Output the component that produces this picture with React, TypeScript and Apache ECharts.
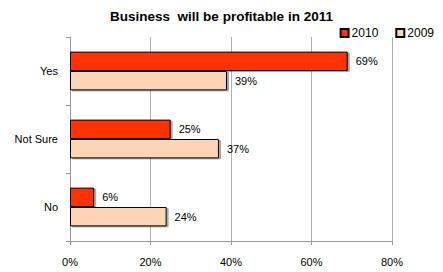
import React, { useEffect, useRef } from "react";
import * as echarts from "echarts";

const categories = ["Yes", "Not Sure", "No"];
const values2010 = [69, 25, 6];
const values2009 = [39, 37, 24];
const seriesNames = ["2010", "2009"];
const titleText = "Business  will be profitable in 2011";

export default function App() {
  const ref = useRef<HTMLDivElement>(null);
  useEffect(() => {
    if (!ref.current) return;
    const chart = echarts.init(ref.current, null, { renderer: "svg" });
    const font = "'Liberation Sans', Arial, sans-serif";
    const barStyle = (color: string) => ({
      color,
      borderColor: "#000",
      borderWidth: 1,
      shadowColor: "rgba(0,0,0,0.35)",
      shadowOffsetX: 2,
      shadowOffsetY: 1,
      shadowBlur: 1,
    });
    chart.setOption({
      animation: false,
      backgroundColor: "#fff",
      textStyle: { fontFamily: font },
      title: {
        text: titleText,
        left: "center",
        top: 4,
        textStyle: { fontSize: 13.5, fontWeight: "bold", color: "#000", fontFamily: font },
      },
      legend: {
        data: seriesNames,
        right: 4,
        top: 22,
        itemWidth: 8,
        itemHeight: 8,
        itemGap: 17,
        textStyle: { fontSize: 12, color: "#000", fontFamily: font, padding: [0, 0, 0, -2] },
        icon: "rect",
      },
      grid: { left: 70, right: 51, top: 37, bottom: 31, containLabel: false },
      xAxis: {
        type: "value",
        min: 0,
        max: 80,
        interval: 20,
        axisLine: { show: true, lineStyle: { color: "#999" } },
        axisTick: { show: true, length: 4, lineStyle: { color: "#999" } },
        splitLine: { show: true, lineStyle: { color: "#b0b0b0", width: 1 } },
        axisLabel: { formatter: "{value}%", fontSize: 11, color: "#000", margin: 15, fontFamily: font },
      },
      yAxis: {
        type: "category",
        data: categories,
        inverse: true,
        axisLine: { show: true, lineStyle: { color: "#999" } },
        axisTick: { show: true, length: 4, lineStyle: { color: "#999" } },
        axisLabel: { fontSize: 11, color: "#000", margin: 12, fontFamily: font },
      },
      series: [
        {
          name: seriesNames[0],
          type: "bar",
          data: values2010,
          barCategoryGap: "43%",
          barGap: "0%",
          itemStyle: barStyle("#ff3300"),
          label: { show: true, position: "right", distance: 8, formatter: "{c}%", fontSize: 11, color: "#000", fontFamily: font },
        },
        {
          name: seriesNames[1],
          type: "bar",
          data: values2009,
          barCategoryGap: "43%",
          barGap: "0%",
          itemStyle: barStyle("#fcd5b5"),
          label: { show: true, position: "right", distance: 8, formatter: "{c}%", fontSize: 11, color: "#000", fontFamily: font },
        },
      ],
    });
    return () => chart.dispose();
  }, []);
  return <div ref={ref} style={{ width: 443, height: 272, position: "absolute", left: 0, top: 0 }} />;
}
